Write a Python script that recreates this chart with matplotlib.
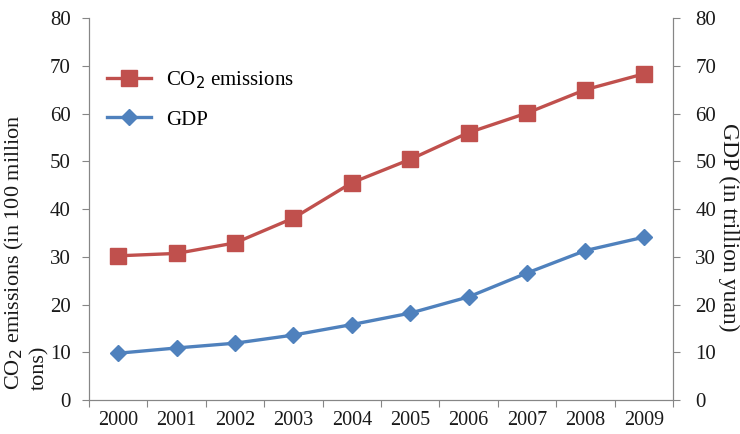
import matplotlib.pyplot as plt

plt.rcParams['font.family'] = ['Liberation Serif', 'DejaVu Serif']

years = ['2000', '2001', '2002', '2003', '2004', '2005', '2006', '2007', '2008', '2009']
co2 = [30.2, 30.7, 32.9, 38.1, 45.5, 50.4, 56.0, 60.1, 65.0, 68.3]
gdp = [9.8, 10.9, 11.9, 13.6, 15.8, 18.2, 21.6, 26.6, 31.3, 34.1]

red = '#C0504D'
blue = '#4F81BD'
spine_col = '#868686'
txt_col = '#1a1a1a'

fig = plt.figure(figsize=(7.4, 4.34), dpi=100)
ax = fig.add_axes([0.1203, 0.0783, 0.7892, 0.8802])
ax2 = ax.twinx()

x = list(range(len(years)))
l1, = ax.plot(x, co2, color=red, lw=2.4, marker='s', markersize=11,
              label='CO$_2$ emissions')
l2, = ax2.plot(x, gdp, color=blue, lw=2.4, marker='D', markersize=8.5,
               label='GDP')

for a in (ax, ax2):
    a.set_ylim(0, 80)
    a.set_yticks(range(0, 81, 10))
    a.set_xlim(-0.5, len(years) - 0.5)
    a.spines['top'].set_visible(False)
    for s in ('left', 'right', 'bottom'):
        a.spines[s].set_color(spine_col)
    a.tick_params(axis='y', colors=spine_col, labelcolor=txt_col,
                  labelsize=15, length=5, direction='out')
ax.tick_params(axis='y', pad=8)
ax2.tick_params(axis='y', pad=11)

ax.set_xticks([i - 0.5 for i in range(len(years) + 1)])
ax.set_xticklabels([])
ax.set_xticks(x, minor=True)
ax.set_xticklabels(years, minor=True)
ax.tick_params(axis='x', which='major', length=5, color=spine_col)
ax.tick_params(axis='x', which='minor', length=0, pad=8,
               labelsize=14.5, labelcolor=txt_col)

ax.legend(handles=[l1, l2], loc='upper left', bbox_to_anchor=(-0.002, 0.914),
          frameon=False, handlelength=2.15, labelspacing=0.9,
          handletextpad=0.7, prop={'size': 15})

# left label in two lines, second line just left of the tick labels
fig.text(0.020, 0.101, 'CO$_2$ emissions (in 100 million',
         rotation=90, ha='center', va='bottom', fontsize=16, color=txt_col)
fig.text(0.053, 0.101, 'tons)', rotation=90, ha='center', va='bottom',
         fontsize=16, color=txt_col)
fig.text(0.984, 0.477, 'GDP (in trillion yuan)', rotation=270,
         ha='center', va='center', fontsize=17, color=txt_col)

fig.savefig('out.png', dpi=100)
